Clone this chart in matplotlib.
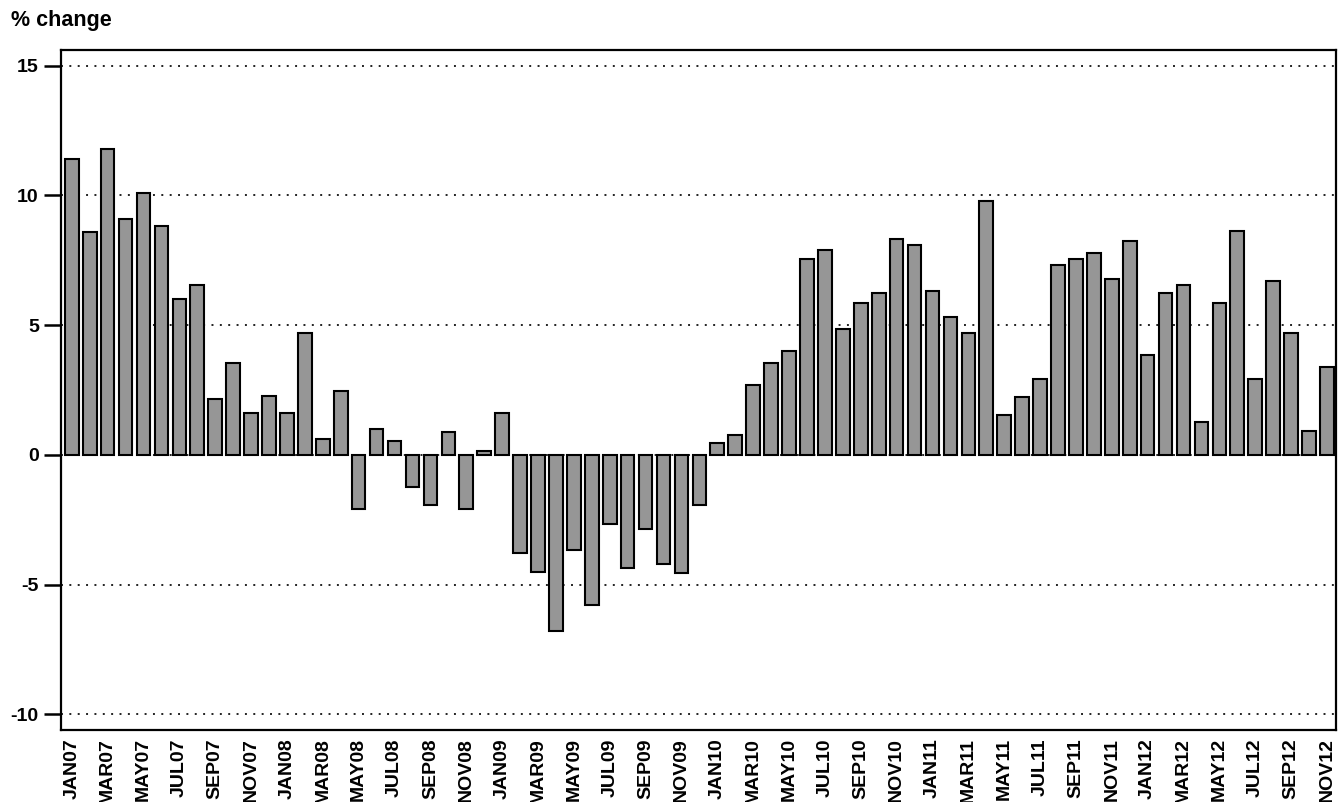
import matplotlib.pyplot as plt

# monthly % change, JAN07 .. NOV12
months = ["JAN", "FEB", "MAR", "APR", "MAY", "JUN",
          "JUL", "AUG", "SEP", "OCT", "NOV", "DEC"]
years = ["07", "08", "09", "10", "11", "12"]
periods = [m + y for y in years for m in months][:71]

pct_change = [
    11.4, 8.6, 11.8, 9.1, 10.1, 8.8, 6.0, 6.55, 2.15, 3.55, 1.6, 2.25,
    1.6, 4.7, 0.6, 2.45, -2.1, 1.0, 0.55, -1.25, -1.95, 0.9, -2.1, 0.15,
    1.6, -3.8, -4.5, -6.8, -3.65, -5.8, -2.65, -4.35, -2.85, -4.2, -4.55, -1.95,
    0.45, 0.77, 2.7, 3.55, 4.0, 7.55, 7.9, 4.85, 5.85, 6.23, 8.3, 8.08,
    6.3, 5.3, 4.7, 9.78, 1.55, 2.23, 2.93, 7.3, 7.55, 7.77, 6.77, 8.23,
    3.85, 6.23, 6.55, 1.25, 5.85, 8.62, 2.93, 6.7, 4.7, 0.92, 3.4,
]

yticks = [-10, -5, 0, 5, 10, 15]

plt.rcParams["font.family"] = ["Liberation Sans", "DejaVu Sans"]
plt.rcParams["font.weight"] = "bold"

fig = plt.figure(figsize=(13.44, 8.02), dpi=100)
ax = fig.add_axes([0.0454, 0.0898, 0.9486, 0.8479])

x = list(range(len(pct_change)))
ax.bar(x, pct_change, width=0.76, color="#969696", edgecolor="black",
       linewidth=1.5, zorder=3)

for t in yticks:
    ax.axhline(t, color="#222222", linewidth=1.4, linestyle=(0, (1, 3.3)), zorder=1)

ax.set_xlim(-0.6, len(pct_change) - 0.5)
ax.set_ylim(-10.6, 15.6)

ax.set_yticks(yticks)
ax.set_yticklabels([str(t) for t in yticks], fontsize=14, fontweight="bold")
ax.tick_params(axis="y", length=12, width=1.8, pad=4, direction="out")

ax.set_xticks(x[::2])
ax.set_xticklabels(periods[::2], rotation=90, fontsize=14, fontweight="bold",
                   va="top", ha="center")
ax.tick_params(axis="x", length=0, pad=6)

for s in ax.spines.values():
    s.set_linewidth(1.6)

fig.text(0.008, 0.987, "% change", fontsize=15.5, fontweight="bold",
         ha="left", va="top")

fig.savefig("out.png", dpi=100)
